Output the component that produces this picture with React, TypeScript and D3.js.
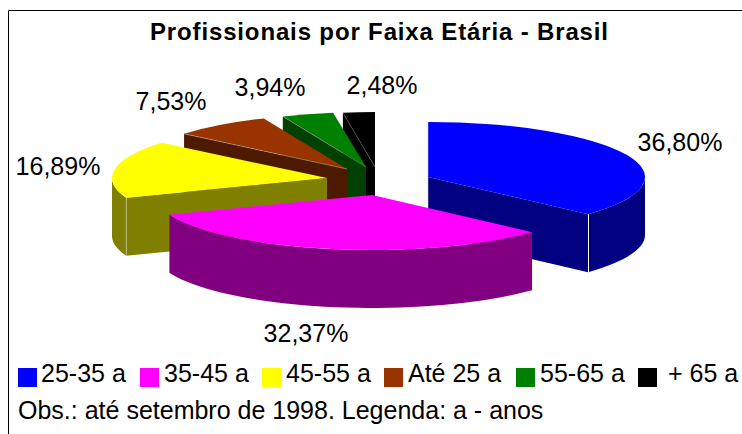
import React from "react";
import * as d3 from "d3";

const categories = ["25-35 a", "35-45 a", "45-55 a", "Até 25 a", "55-65 a", "+ 65 a"];
const shares = [36.8, 32.37, 16.89, 7.53, 3.94, 2.48];
const topColors = ["#0000ff", "#ff00ff", "#ffff00", "#993300", "#008000", "#000000"];
const sideColors = ["#000080", "#800080", "#808000", "#4d1a00", "#004000", "#000000"];
const seamColors = ["#ccc", "#ccc", "#ddd", "#bbb", "#999", "#666"];

// how far each slice is pulled away from the pie centre, and its drawn radius
const explodeX = [47, -9, -54, -34, -15, -6];
const explodeY = [-5, 13, -4, -13, -15, -15];
const radiusX = [217, 217, 215, 212, 212, 207];
const labelX = [680, 306, 58, 171, 270, 382];
const labelY = [151, 342, 175, 110, 96, 94];
const legendSwatchX = [18, 140, 262, 384, 516, 638];
const legendTextX = [41, 164, 286, 408, 540, 668];

const width = 742;
const height = 434;
const cx = 381;
const cy = 182;
const ry = 55;
const depth = 58;
const font = "'Liberation Sans', Arial, sans-serif";

const pct = d3.formatLocale({
  decimal: ",",
  thousands: ".",
  grouping: [3],
  currency: ["", ""],
}).format(".2f");

const line = d3.line();

const slices = d3
  .pie<number>()
  .sort(null)
  .value((d) => d)(shares);

// back to front
const drawOrder = [0, 5, 4, 3, 2, 1];

const Slice = ({ i }: { i: number }) => {
  const s = slices[i];
  const rx = radiusX[i];
  const ox = cx + explodeX[i];
  const oy = cy + explodeY[i];
  const rim = (a: number): [number, number] => [rx * Math.sin(a), -ry * Math.cos(a)];
  const arc = d3.arc<any>().innerRadius(0).outerRadius(rx);

  // radial wall is seen only on slices starting on the left half
  const showStartWall = s.startAngle > Math.PI;
  const startPt = rim(s.startAngle);
  const endPt = rim(s.endAngle);
  const showEndWall = i === 0;

  const a0 = Math.max(s.startAngle, Math.PI / 2);
  const a1 = Math.min(s.endAngle, (3 * Math.PI) / 2);
  let rimWall: string | null = null;
  if (a1 > a0) {
    const angles = d3.range(a0, a1, 0.05).concat([a1]);
    const upper = angles.map(rim);
    const lower = upper.map(([x, y]) => [x, y + depth] as [number, number]).reverse();
    rimWall = line([...upper, ...lower]) + "Z";
  }

  const radial = (p: [number, number]) =>
    line([[0, 0], p, [p[0], p[1] + depth], [0, depth]]) + "Z";

  return (
    <g transform={`translate(${ox},${oy})`}>
      {showStartWall && <path d={radial(startPt)} fill={sideColors[i]} />}
      {showEndWall && <path d={radial(endPt)} fill={sideColors[i]} />}
      {rimWall && <path d={rimWall} fill={sideColors[i]} />}
      <path d={arc(s) as string} transform={`scale(1,${ry / rx})`} fill={topColors[i]} />
      {showStartWall && i !== 2 && (
        <line x1={0} y1={0} x2={startPt[0]} y2={startPt[1]} stroke={seamColors[i]} strokeWidth={0.5} />
      )}
      {i === 0 && (
        <g>
          <line
            x1={Math.round(endPt[0]) + 0.5}
            y1={endPt[1]}
            x2={Math.round(endPt[0]) + 0.5}
            y2={endPt[1] + depth}
            stroke="#fff"
          />
          <line x1={0} y1={-ry} x2={0} y2={depth} stroke={seamColors[i]} strokeWidth={0.5} />
        </g>
      )}
      {i === 2 && (
        <line
          x1={startPt[0]}
          y1={startPt[1]}
          x2={startPt[0]}
          y2={startPt[1] + depth}
          stroke={seamColors[i]}
          strokeWidth={0.5}
        />
      )}
    </g>
  );
};

export default function App() {
  return (
    <svg
      width={width}
      height={height}
      style={{ position: "absolute", left: 0, top: 0, background: "#fff" }}
      fontFamily={font}
    >
      <path d={`M8.5,${height}V10.5H${width}`} fill="none" stroke="#000" strokeWidth={1} />
      <text x={379} y={40} textAnchor="middle" fontWeight="bold" fontSize={24} textLength={458} lengthAdjust="spacing">
        Profissionais por Faixa Etária - Brasil
      </text>
      {drawOrder.map((i) => (
        <Slice key={categories[i]} i={i} />
      ))}
      {shares.map((v, i) => (
        <text key={categories[i]} x={labelX[i]} y={labelY[i]} textAnchor="middle" fontSize={25} fill="#000">
          {pct(v)}%
        </text>
      ))}
      {categories.map((c, i) => (
        <g key={c}>
          <rect x={legendSwatchX[i]} y={368} width={19} height={19} fill={topColors[i]} />
          <text x={legendTextX[i]} y={382} fontSize={25}>
            {c}
          </text>
        </g>
      ))}
      <text x={18} y={419} fontSize={25}>
        Obs.: até setembro de 1998. Legenda: a - anos
      </text>
    </svg>
  );
}
